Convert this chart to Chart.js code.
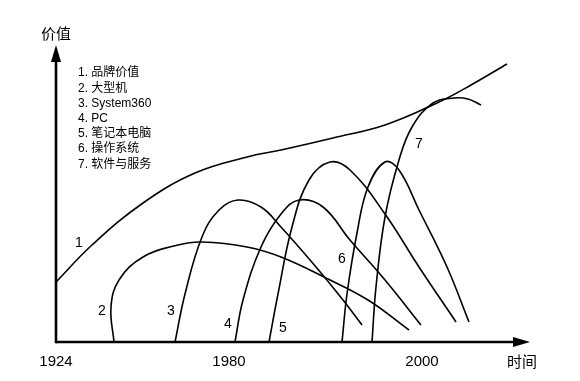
<!DOCTYPE html>
<html lang="zh">
  <head>
    <meta charset="UTF-8" />
    <title>价值曲线</title>
    <script src="https://cdn.jsdelivr.net/npm/chart.js@4/dist/chart.umd.min.js"></script>
    <style>
      body {
        margin: 0;
        background: #fff;
      }
      #wrap {
        width: 580px;
        height: 381px;
      }
    </style>
  </head>
  <body>
    <div id="wrap"><canvas id="c"></canvas></div>
    <script>
      // schematic curves, [x, y] in axis units
      const brand = [[0, 60], [36, 97], [87, 139], [139, 169], [191, 185], [225, 192], [277, 204], [329, 217], [381, 239], [415, 257], [451, 278]];
      const mainframe = [[58, 0], [55, 35], [63, 62], [87, 85], [122, 97], [146, 100], [191, 95], [225, 85], [270, 64], [312, 42], [353, 12]];
      const system360 = [[119, 0], [129, 48], [146, 105], [163, 132], [182, 142], [205, 135], [225, 115], [260, 75], [287, 42], [306, 17]];
      const pc = [[179, 0], [187, 42], [205, 95], [225, 128], [243, 142], [267, 135], [294, 102], [329, 62], [365, 17]];
      const laptop = [[213, 0], [222, 48], [236, 115], [253, 162], [274, 180], [294, 172], [329, 128], [363, 75], [400, 20]];
      const os = [[286, 0], [291, 48], [301, 109], [312, 155], [329, 180], [343, 172], [363, 132], [391, 75], [413, 20]];
      const software = [[316, 0], [320, 55], [329, 125], [343, 182], [356, 215], [377, 239], [398, 244], [412, 243], [425, 237]];

      const seriesNames = ["1. 品牌价值", "2. 大型机", "3. System360", "4. PC", "5. 笔记本电脑", "6. 操作系统", "7. 软件与服务"];
      const tickValues = [0, 173, 366];
      const tickLabels = ["1924", "1980", "2000"];

      const FONT = '"Liberation Sans", "Noto Sans CJK SC", sans-serif';

      // where the curve numbers sit (axis units)
      const numberPos = [[23, 99], [46, 31], [115, 31], [172, 18], [227, 14], [286, 83], [363, 198]];

      const allSeries = [brand, mainframe, system360, pc, laptop, os, software];

      const decor = {
        id: "decor",
        afterDraw(chart) {
          const { ctx, chartArea: a, scales } = chart;
          const x = scales.x, y = scales.y;
          ctx.save();
          ctx.strokeStyle = "#000";
          ctx.fillStyle = "#000";
          ctx.lineWidth = 2.6;
          // x axis
          ctx.beginPath();
          ctx.moveTo(a.left, a.bottom);
          ctx.lineTo(a.right - 14, a.bottom);
          ctx.stroke();
          ctx.beginPath();
          ctx.moveTo(a.right, a.bottom);
          ctx.lineTo(a.right - 17, a.bottom - 5);
          ctx.lineTo(a.right - 17, a.bottom + 5);
          ctx.closePath();
          ctx.fill();
          // y axis
          ctx.beginPath();
          ctx.moveTo(a.left, a.bottom + 1.3);
          ctx.lineTo(a.left, a.top + 14);
          ctx.stroke();
          ctx.beginPath();
          ctx.moveTo(a.left, a.top);
          ctx.lineTo(a.left - 5, a.top + 17);
          ctx.lineTo(a.left + 5, a.top + 17);
          ctx.closePath();
          ctx.fill();

          ctx.textAlign = "center";
          ctx.textBaseline = "middle";
          ctx.font = "15px " + FONT;
          ctx.fillText("价值", a.left, a.top - 10);
          tickValues.forEach((v, i) => {
            ctx.fillText(tickLabels[i], x.getPixelForValue(v), a.bottom + 20);
          });
          ctx.fillText("时间", a.right - 8, a.bottom + 21);

          ctx.font = "14px " + FONT;
          numberPos.forEach((p, i) => {
            ctx.fillText(String(i + 1), x.getPixelForValue(p[0]), y.getPixelForValue(p[1]));
          });

          ctx.textAlign = "left";
          ctx.font = "12px " + FONT;
          seriesNames.forEach((n, i) => {
            ctx.fillText(n, a.left + 22, a.top + 28 + i * 15.2);
          });
          ctx.restore();
        },
      };

      new Chart(document.getElementById("c"), {
        type: "scatter",
        data: {
          datasets: allSeries.map((s, i) => ({
            label: seriesNames[i],
            data: s.map((p) => ({ x: p[0], y: p[1] })),
            showLine: true,
            borderColor: "#000",
            borderWidth: 1.6,
            pointRadius: 0,
            tension: 0.4,
            fill: false,
            clip: false,
          })),
        },
        options: {
          responsive: true,
          maintainAspectRatio: false,
          animation: false,
          layout: { padding: { left: 56, right: 50, top: 45, bottom: 39 } },
          scales: {
            x: { type: "linear", min: 0, max: 474, display: false },
            y: { type: "linear", min: 0, max: 297, display: false },
          },
          plugins: {
            legend: { display: false },
            tooltip: { enabled: false },
          },
        },
        plugins: [decor],
      });
    </script>
  </body>
</html>
